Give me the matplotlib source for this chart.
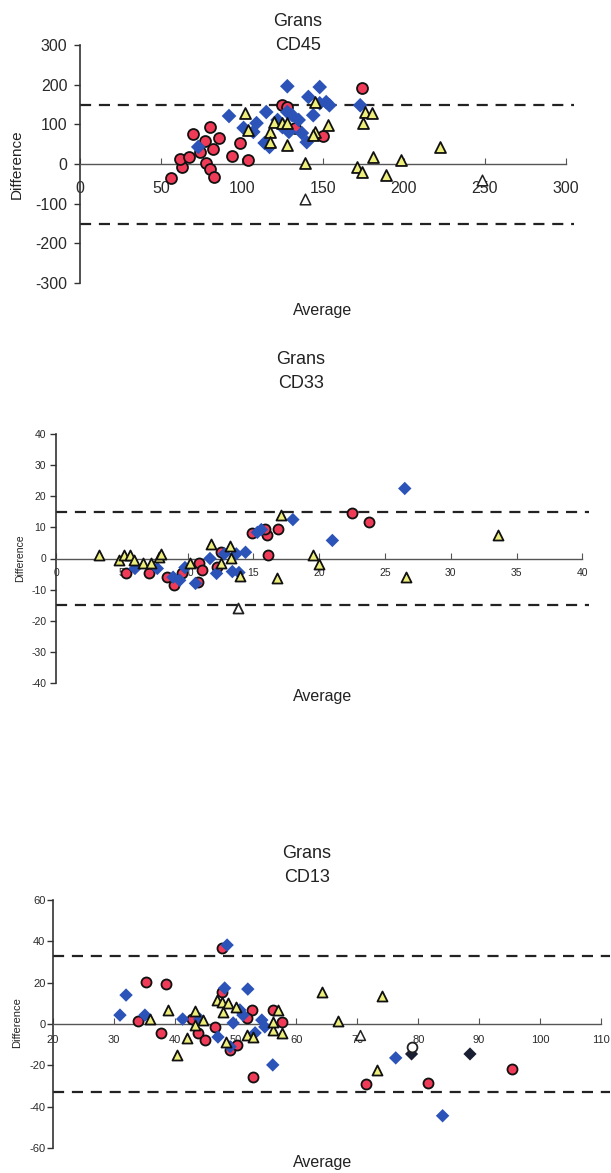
import matplotlib
matplotlib.use("Agg")
import matplotlib.pyplot as plt

plt.rcParams['font.family'] = ['Liberation Sans', 'DejaVu Sans']
plt.rcParams['axes.unicode_minus'] = False

RED = '#ef3b57'
BLUE = '#2b53b8'
YELLOW = '#eeee7a'

# ---- CD45 ----
cd45_circle_x = [56, 63, 62, 67, 70, 74, 77, 80, 86, 82, 78, 80, 83, 94, 99, 104, 125, 128, 133, 150, 174]
cd45_circle_y = [-35, -7, 12, 18, 75, 30, 58, 93, 66, 38, 2, -13, -33, 20, 52, 10, 150, 144, 90, 70, 191]
cd45_diamond_x = [73, 92, 101, 109, 107, 115, 114, 117, 122, 128, 128, 125, 131, 135, 129, 137, 140, 141, 148, 144, 148, 152, 154, 173]
cd45_diamond_y = [43, 121, 91, 103, 81, 131, 53, 43, 111, 196, 131, 93, 123, 111, 81, 78, 55, 169, 194, 123, 153, 156, 148, 148]
cd45_tri_x = [102, 104, 117, 117, 120, 125, 128, 128, 145, 145, 144, 153, 139, 176, 180, 175, 181, 171, 174, 189, 198, 222]
cd45_tri_y = [128, 86, 81, 55, 106, 103, 103, 48, 156, 81, 73, 98, 2, 131, 128, 103, 18, -7, -20, -28, 10, 43]
cd45_open_tri_x = [139, 248]
cd45_open_tri_y = [-88, -40]

# ---- CD33 ----
cd33_circle_x = [5.3, 7.1, 8.4, 9.0, 9.6, 10.9, 11.1, 10.8, 14.9, 16.0, 15.9, 16.9, 16.1, 12.5, 12.2, 22.5, 23.8]
cd33_circle_y = [-4.8, -4.8, -6.0, -8.4, -4.8, -1.6, -3.8, -7.7, 8.3, 7.7, 9.6, 9.6, 1.2, 2.0, -2.8, 14.5, 11.7]
cd33_diamond_x = [6.0, 7.7, 8.9, 9.4, 9.8, 10.6, 11.7, 12.8, 13.7, 14.4, 12.2, 13.4, 13.9, 15.3, 15.6, 18.0, 21.0, 26.5]
cd33_diamond_y = [-3.2, -3.2, -6.0, -7.0, -2.9, -8.0, 0.0, 1.5, 1.5, 2.0, -4.8, -4.2, -4.5, 8.4, 9.3, 12.5, 5.8, 22.5]
cd33_tri_x = [3.3, 4.8, 5.2, 5.6, 5.9, 6.6, 7.2, 7.8, 8.0, 10.2, 11.8, 13.2, 13.3, 12.5, 14.0, 16.8, 17.1, 19.5, 20.0, 26.6, 33.6]
cd33_tri_y = [1.0, -0.6, 1.0, 1.0, -0.6, -1.3, -1.6, 0.6, 1.3, -1.3, 4.8, 3.9, 0.3, -1.6, -5.5, -6.4, 14.1, 1.0, -1.7, -6.1, 7.7]
cd33_open_tri_x = [13.8]
cd33_open_tri_y = [-16.0]

# ---- CD13 ----
cd13_circle_x = [33.9, 35.3, 38.6, 37.7, 47.8, 46.6, 43.8, 45.0, 49.1, 50.2, 47.8, 52.7, 51.8, 56.1, 57.6, 52.8, 42.8, 71.4, 81.6, 95.4]
cd13_circle_y = [1.5, 20.3, 19.3, -4.3, 36.7, -1.4, -4.3, -7.7, -12.6, -10.1, 15.5, 6.8, 2.9, 6.8, 1.0, -25.6, 2.4, -29.0, -28.5, -21.7]
cd13_diamond_x = [31.0, 32.0, 35.1, 41.3, 44.1, 47.1, 48.6, 48.2, 52.0, 49.6, 50.7, 51.2, 54.3, 54.8, 53.2, 56.1, 49.1, 76.3, 84.0]
cd13_diamond_y = [4.3, 14.0, 4.3, 2.4, 2.4, -6.3, 38.2, 17.4, 16.9, 0.5, 6.8, 4.3, 1.9, -1.4, -4.3, -19.8, -11.0, -16.4, -44.4]
cd13_tri_x = [35.9, 38.9, 40.4, 42.0, 43.3, 43.3, 44.6, 46.9, 47.7, 47.9, 48.7, 50.0, 48.4, 51.8, 52.9, 56.1, 56.1, 57.0, 57.6, 64.2, 74.0, 66.8, 73.2]
cd13_tri_y = [2.4, 6.8, -15.0, -6.8, 6.3, -0.5, 1.9, 11.6, 10.6, 5.8, 10.1, 8.2, -8.7, -5.3, -6.3, -2.9, 1.0, 6.8, -4.3, 15.5, 13.5, 1.5, -22.2]
cd13_open_tri_x = [70.4]
cd13_open_tri_y = [-5.3]
cd13_open_circle_x = [78.9]
cd13_open_circle_y = [-11.0]
cd13_black_diamond_x = [78.9, 88.5]
cd13_black_diamond_y = [-14.5, -14.5]

W, H = 611, 1173
fig = plt.figure(figsize=(W / 100, H / 100), dpi=100)


def panel(rect, xlim, ylim, xticks, yticks, limit, tick_fs, xpad, ypad):
    ax = fig.add_axes(rect)
    ax.set_xlim(*xlim)
    ax.set_ylim(*ylim)
    for s in ['top', 'right']:
        ax.spines[s].set_visible(False)
    ax.spines['left'].set_color('#333333')
    ax.spines['left'].set_linewidth(1.2)
    ax.spines['bottom'].set_position(('data', 0))
    ax.spines['bottom'].set_bounds(xticks[0], xticks[-1])
    ax.spines['bottom'].set_color('#555555')
    ax.spines['bottom'].set_linewidth(1.0)
    ax.set_xticks(xticks)
    ax.set_yticks(yticks)
    ax.tick_params(axis='x', direction='in', length=4, width=0.8, color='#555555',
                   labelsize=tick_fs, pad=xpad, labelcolor='#2a2a2a')
    ax.tick_params(axis='y', direction='out', length=4, width=1.0, color='#333333',
                   labelsize=tick_fs, pad=ypad, labelcolor='#2a2a2a')
    for v in (limit, -limit):
        ax.axhline(v, color='#222222', lw=1.6, dashes=(5, 3.5), zorder=1)
    ax.patch.set_alpha(0)
    return ax


def points(ax, cx, cy, dx, dy, tx, ty, ms):
    ax.scatter(cx, cy, s=ms, marker='o', facecolor=RED, edgecolor='#111111', linewidth=1.3, zorder=3, clip_on=False)
    ax.scatter(dx, dy, s=ms * 0.9, marker='D', facecolor=BLUE, edgecolor='none', zorder=4, clip_on=False)
    ax.scatter(tx, ty, s=ms, marker='^', facecolor=YELLOW, edgecolor='#111111', linewidth=1.3, zorder=5, clip_on=False)


# panel 1
ax1 = panel([80 / W, 1 - 283 / H, 494 / W, 238 / H], (0, 305), (-300, 300),
            [0, 50, 100, 150, 200, 250, 300], [-300, -200, -100, 0, 100, 200, 300],
            150, 11.5, 12, 5)
points(ax1, cd45_circle_x, cd45_circle_y, cd45_diamond_x, cd45_diamond_y, cd45_tri_x, cd45_tri_y, 62)
ax1.scatter(cd45_open_tri_x, cd45_open_tri_y, s=58, marker='^', facecolor='white', edgecolor='#222222', linewidth=1.1, zorder=5)

# panel 2
ax2 = panel([56 / W, 1 - 683 / H, 533 / W, 249 / H], (0, 40.5), (-40, 40),
            [0, 5, 10, 15, 20, 25, 30, 35, 40], [-40, -30, -20, -10, 0, 10, 20, 30, 40],
            15, 7.5, 7, 3)
points(ax2, cd33_circle_x, cd33_circle_y, cd33_diamond_x, cd33_diamond_y, cd33_tri_x, cd33_tri_y, 52)
ax2.scatter(cd33_open_tri_x, cd33_open_tri_y, s=52, marker='^', facecolor='white', edgecolor='#222222', linewidth=1.3, zorder=5)

# panel 3
ax3 = panel([53 / W, 1 - 1148 / H, 557 / W, 248 / H], (20, 111.5), (-60, 60),
            [20, 30, 40, 50, 60, 70, 80, 90, 100, 110], [-60, -40, -20, 0, 20, 40, 60],
            33, 8, 8, 1.5)
points(ax3, cd13_circle_x, cd13_circle_y, cd13_diamond_x, cd13_diamond_y, cd13_tri_x, cd13_tri_y, 52)
ax3.scatter(cd13_open_tri_x, cd13_open_tri_y, s=50, marker='^', facecolor='white', edgecolor='#222222', linewidth=1.1, zorder=5)
ax3.scatter(cd13_black_diamond_x, cd13_black_diamond_y, s=45, marker='D', facecolor='#1a1f33', edgecolor='none', zorder=5)
ax3.scatter(cd13_open_circle_x, cd13_open_circle_y, s=50, marker='o', facecolor='white', edgecolor='#222222', linewidth=1.3, zorder=6)

# titles and axis labels
titles = [("CD45", 298, 21, 45), ("CD33", 301, 360, 383), ("CD13", 307, 853, 877)]
for name, x, y1, y2 in titles:
    fig.text(x / W, 1 - y1 / H, "Grans", ha='center', va='center', fontsize=13, color='#222222')
    fig.text(x / W, 1 - y2 / H, name, ha='center', va='center', fontsize=13, color='#222222')

for y in (310, 697, 1163):
    fig.text(323 / W, 1 - y / H, "Average", ha='center', va='center', fontsize=11.5, color='#222222')

for x, y, fs in ((17, 164, 11), (20, 558, 7.5), (17, 1023, 8)):
    fig.text(x / W, 1 - y / H, "Difference", ha='center', va='center', rotation=90, fontsize=fs, color='#222222')

fig.savefig("out.png", dpi=100)
